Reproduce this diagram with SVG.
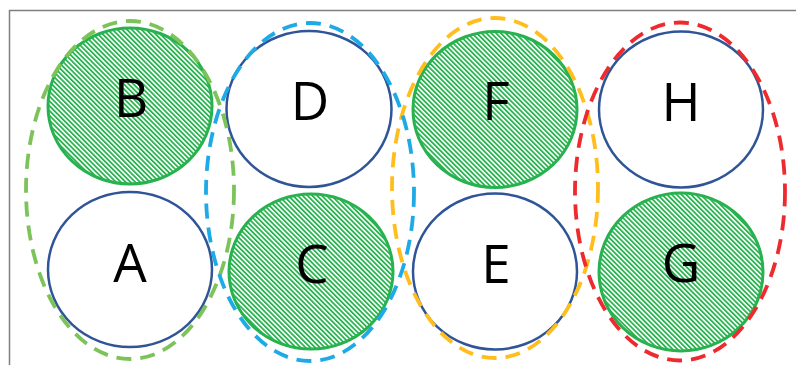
<svg xmlns="http://www.w3.org/2000/svg" width="796" height="365" viewBox="0 0 796 365">
  <defs>
    <pattern id="hatch" patternUnits="userSpaceOnUse" width="3.4" height="8" patternTransform="rotate(-45)">
      <rect x="0" y="0" width="3.4" height="8" fill="#ffffff"/>
      <rect x="0" y="0" width="1.8" height="8" fill="#2bb352"/>
    </pattern>
    <style>
      .frame { fill: none; stroke: #7f7f7f; stroke-width: 1.5; }
      .open { fill: #ffffff; stroke: #2f5597; stroke-width: 2.5; }
      .filled { fill: url(#hatch); stroke: #27b24f; stroke-width: 3; }
      .label { font-family: "Open Sans", "Liberation Sans", sans-serif; font-size: 53px; fill: #000000; text-anchor: middle; }
      .group { fill: none; stroke-width: 3.8; stroke-dasharray: 15 9; }
    </style>
  </defs>
  <rect width="796" height="365" fill="#ffffff"/>
  <path class="frame" d="M9.5 365 V10.5 H796"/>

  <g id="node-B"><ellipse class="filled" cx="130" cy="106" rx="82" ry="78"/><text class="label" x="131" y="117">B</text></g>
  <g id="node-A"><ellipse class="open" cx="130" cy="269.5" rx="82" ry="77.5"/><text class="label" x="130" y="282">A</text></g>
  <g id="node-D"><ellipse class="open" cx="309" cy="109" rx="82.5" ry="78"/><text class="label" x="310" y="120">D</text></g>
  <g id="node-C"><ellipse class="filled" cx="311" cy="271.5" rx="82" ry="77.5"/><text class="label" x="312" y="283">C</text></g>
  <g id="node-F"><ellipse class="filled" cx="495" cy="109.5" rx="82" ry="78"/><text class="label" x="496" y="120">F</text></g>
  <g id="node-E"><ellipse class="open" cx="495" cy="271.5" rx="82" ry="78"/><text class="label" x="496" y="283">E</text></g>
  <g id="node-H"><ellipse class="open" cx="681" cy="109.5" rx="82" ry="78"/><text class="label" x="681" y="121">H</text></g>
  <g id="node-G"><ellipse class="filled" cx="681" cy="272" rx="82" ry="79"/><text class="label" x="681" y="282">G</text></g>

  <g id="groupings">
    <ellipse class="group" stroke="#7cc359" cx="130" cy="190" rx="104" ry="169"/>
    <ellipse class="group" stroke="#ffbe1e" cx="495" cy="188" rx="103" ry="170"/>
    <ellipse class="group" stroke="#1eaae6" cx="310" cy="192" rx="104" ry="169"/>
    <ellipse class="group" stroke="#ee2a2e" cx="680" cy="191.5" rx="105" ry="169"/>
  </g>
</svg>
